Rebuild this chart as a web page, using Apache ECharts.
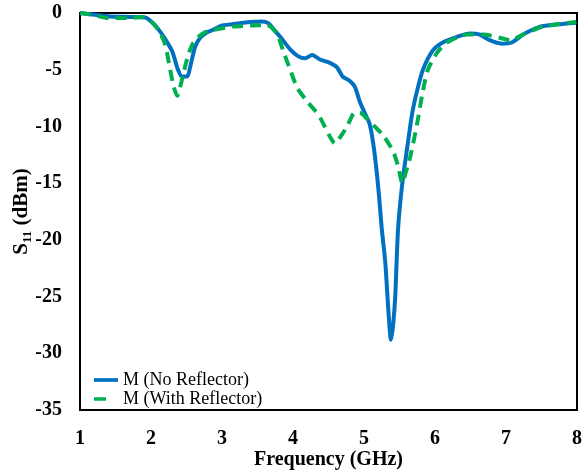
<!DOCTYPE html>
<html>
<head>
<meta charset="utf-8">
<script src="https://cdn.jsdelivr.net/npm/echarts@6/dist/echarts.min.js"></script>
<style>
  html, body { margin: 0; padding: 0; background: #fff; }
  #chart { width: 584px; height: 471px; }
</style>
</head>
<body>
<div id="chart"></div>
<script>
// Frequency sweep, GHz
const freqNoReflector = [1.00, 1.21, 1.42, 1.70, 1.92, 2.01, 2.10, 2.20, 2.30, 2.38, 2.44, 2.51, 2.55, 2.62, 2.69, 2.79, 2.87, 3.00, 3.14, 3.25, 3.39, 3.56, 3.65, 3.75, 3.82, 3.96, 4.07, 4.17, 4.27, 4.38, 4.52, 4.62, 4.70, 4.80, 4.87, 4.94, 5.01, 5.08, 5.13, 5.17, 5.21, 5.25, 5.30, 5.34, 5.38, 5.41, 5.44, 5.48, 5.54, 5.61, 5.68, 5.75, 5.83, 5.97, 6.11, 6.31, 6.49, 6.63, 6.77, 6.94, 7.08, 7.24, 7.48, 7.72, 7.99];
// S11, dBm
const s11NoReflector = [0, -0.15, -0.3, -0.35, -0.4, -0.8, -1.4, -2.3, -3.4, -5.0, -5.6, -5.6, -4.8, -3.0, -2.2, -1.7, -1.5, -1.1, -1.0, -0.9, -0.8, -0.75, -0.9, -1.6, -2.1, -3.2, -3.8, -4.0, -3.7, -4.1, -4.4, -4.8, -5.6, -6.0, -6.5, -7.8, -8.8, -9.8, -11.5, -13.5, -16, -19, -22, -25.9, -28.8, -27.5, -25, -19, -15, -11.8, -8.8, -6.8, -5.0, -3.3, -2.6, -2.1, -1.8, -1.9, -2.4, -2.7, -2.6, -1.9, -1.2, -1.0, -0.85];

const freqWithReflector = [1.00, 1.21, 1.39, 1.68, 1.87, 2.03, 2.13, 2.20, 2.27, 2.32, 2.37, 2.42, 2.51, 2.58, 2.65, 2.76, 2.87, 3.15, 3.44, 3.63, 3.77, 3.86, 3.96, 4.06, 4.20, 4.31, 4.38, 4.52, 4.59, 4.68, 4.77, 4.87, 4.94, 5.04, 5.15, 5.27, 5.41, 5.48, 5.54, 5.59, 5.65, 5.75, 5.82, 5.90, 6.03, 6.17, 6.45, 6.68, 6.92, 7.06, 7.24, 7.52, 7.99];
const s11WithReflector = [0, -0.2, -0.45, -0.45, -0.35, -0.9, -1.8, -2.8, -5.0, -6.5, -7.3, -6.3, -4.0, -2.8, -2.2, -1.7, -1.5, -1.2, -1.1, -1.05, -1.8, -3.3, -5.0, -6.6, -7.8, -8.6, -9.2, -10.9, -11.5, -10.8, -9.9, -8.8, -8.8, -9.3, -10.0, -10.8, -12.2, -13.5, -15, -14.0, -12.7, -9.7, -7.2, -5.0, -3.5, -2.6, -1.9, -1.9, -2.2, -2.4, -1.9, -1.2, -0.8];

const xTicks = { min: 1, max: 8, step: 1 };
const yTicks = { min: -35, max: 0, step: 5 };

const seriesNames = ['M (No Reflector)', 'M (With Reflector)'];

const pair = (xs, ys) => xs.map((x, i) => [x, ys[i]]);

const serif = '"Liberation Serif", "Times New Roman", serif';

// legend keys: a solid bar, and a single dash followed by empty space
const solidKey = 'path://M0,0h26v4h-26z';
const dashKey = 'path://M0,0h13v4h-13z M26,0L26,4';

const chart = echarts.init(document.getElementById('chart'), null, { renderer: 'canvas' });
chart.setOption({
  animation: false,
  backgroundColor: '#ffffff',
  grid: {
    left: 80, top: 13, right: 7, bottom: 61,
    outerBoundsMode: 'none',
    containLabel: false,
    show: true, borderColor: '#000', borderWidth: 2, backgroundColor: 'transparent'
  },
  legend: {
    orient: 'vertical',
    left: 89, top: 366,
    itemWidth: 24, itemHeight: 4, itemGap: 1,
    textStyle: { fontFamily: serif, fontSize: 18, color: '#000' },
    data: [
      { name: seriesNames[0], icon: solidKey },
      { name: seriesNames[1], icon: dashKey }
    ]
  },
  xAxis: {
    type: 'value',
    min: xTicks.min, max: xTicks.max, interval: xTicks.step,
    name: 'Frequency (GHz)',
    nameLocation: 'middle', nameGap: 40,
    nameMoveOverlap: false,
    nameTextStyle: { fontFamily: serif, fontSize: 20, fontWeight: 'bold', color: '#000' },
    axisLine: { lineStyle: { color: '#000', width: 2 } },
    axisTick: { show: false },
    splitLine: { show: false },
    axisLabel: { fontFamily: serif, fontSize: 20, fontWeight: 'bold', color: '#000', margin: 19 }
  },
  yAxis: {
    type: 'value',
    min: yTicks.min, max: yTicks.max, interval: yTicks.step,
    name: '{s|S}{sub|11}{s| (dBm)}',
    nameLocation: 'middle', nameGap: 46,
    nameMoveOverlap: false,
    nameTextStyle: {
      fontFamily: serif, fontWeight: 'bold', color: '#000',
      rich: {
        s: { fontFamily: serif, fontSize: 21, fontWeight: 'bold', color: '#000', lineHeight: 24 },
        sub: { fontFamily: serif, fontSize: 13, fontWeight: 'bold', color: '#000', lineHeight: 24, padding: [12, 0, 0, 0] }
      }
    },
    axisLine: { lineStyle: { color: '#000', width: 2 } },
    axisTick: { show: false },
    splitLine: { show: false },
    axisLabel: { fontFamily: serif, fontSize: 20, fontWeight: 'bold', color: '#000', margin: 18 }
  },
  series: [
    {
      name: seriesNames[0],
      type: 'line',
      data: pair(freqNoReflector, s11NoReflector),
      showSymbol: false, symbol: 'none',
      smooth: 0.25,
      lineStyle: { color: '#0070C0', width: 4 },
      itemStyle: { color: '#0070C0' },
      z: 2
    },
    {
      name: seriesNames[1],
      type: 'line',
      data: pair(freqWithReflector, s11WithReflector),
      showSymbol: false, symbol: 'none',
      smooth: 0.25,
      lineStyle: { color: '#00B050', width: 4, type: [11, 7] },
      itemStyle: { color: '#00B050' },
      z: 3
    }
  ]
});
</script>
</body>
</html>
